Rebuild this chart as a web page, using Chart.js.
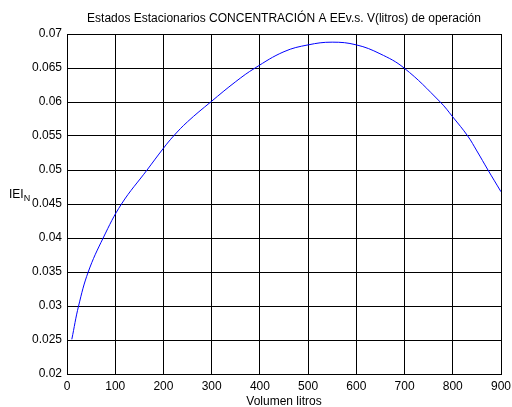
<!DOCTYPE html>
<html>
<head>
<meta charset="utf-8">
<script src="https://cdn.jsdelivr.net/npm/chart.js@4/dist/chart.umd.min.js"></script>
<style>
  html, body { margin: 0; padding: 0; background: #fff; }
  #wrap { width: 512px; height: 407px; position: relative; }
</style>
</head>
<body>
<div id="wrap"><canvas id="chart" width="512" height="407"></canvas></div>
<script>
// volume (litros) and concentration
const volumen = [10, 24, 44, 75, 113, 166, 200, 221, 250, 298, 350, 390, 450, 500, 550, 600, 649, 699, 774, 800, 831, 850, 873, 900];
const concentracion = [0.0251, 0.0300, 0.0350, 0.0400, 0.0450, 0.0500, 0.0532, 0.0550, 0.0571, 0.0600, 0.0630, 0.0650, 0.0674, 0.0684, 0.0688, 0.0684, 0.0671, 0.0650, 0.0600, 0.0578, 0.0550, 0.0528, 0.0500, 0.0468];
const xTicks = [0, 100, 200, 300, 400, 500, 600, 700, 800, 900];
const yTicks = [0.02, 0.025, 0.03, 0.035, 0.04, 0.045, 0.05, 0.055, 0.06, 0.065, 0.07];

const FONT = 'Liberation Sans, Arial, sans-serif';

// title and axis labels, drawn like the matlab figure
const labels = {
    id: 'labels',
    afterDraw(chart) {
        const c = chart.ctx;
        const a = chart.chartArea;
        const mid = (a.left + a.right) / 2;
        c.save();
        c.fillStyle = '#000';
        c.textBaseline = 'alphabetic';
        c.textAlign = 'center';
        c.font = '12px ' + FONT;
        c.fillText('Estados Estacionarios CONCENTRACIÓN A EEv.s. V(litros) de operación', mid, 22);
        c.fillText('Volumen litros', mid, 405);
        // y label IEI with subscript N
        c.textAlign = 'left';
        c.fillText('IEI', 9, 198);
        const w = c.measureText('IEI').width;
        c.font = '9px ' + FONT;
        c.fillText('N', 9 + w, 201);
        c.restore();
    }
};

const ctx = document.getElementById('chart').getContext('2d');
const chart = new Chart(ctx, {
    type: 'scatter',
    data: {
        datasets: [{
            data: volumen.map((v, i) => ({ x: v, y: concentracion[i] })),
            showLine: true,
            borderColor: '#0000ff',
            borderWidth: 1,
            pointRadius: 0,
            tension: 0.4,
            fill: false
        }]
    },
    options: {
        responsive: false,
        animation: false,
        layout: { padding: { top: 34, right: 0, left: 0, bottom: 0 } },
        plugins: {
            legend: { display: false },
            tooltip: { enabled: false }
        },
        scales: {
            x: {
                type: 'linear',
                min: 0,
                max: 900,
                afterFit: s => { s.height = 33; s.paddingRight = 11; s.paddingLeft = 0; },
                afterBuildTicks: s => { s.ticks = xTicks.map(v => ({ value: v })); },
                grid: { color: '#000', lineWidth: 1, drawTicks: false },
                border: { display: true, color: '#000', width: 1 },
                ticks: {
                    color: '#000',
                    padding: 5,
                    maxRotation: 0,
                    font: { family: FONT, size: 12 },
                    callback: v => String(v)
                }
            },
            y: {
                min: 0.02,
                max: 0.07,
                afterFit: s => { s.width = 67; },
                afterBuildTicks: s => { s.ticks = yTicks.map(v => ({ value: v })); },
                grid: { color: '#000', lineWidth: 1, drawTicks: false },
                border: { display: true, color: '#000', width: 1 },
                ticks: {
                    color: '#000',
                    padding: 5,
                    font: { family: FONT, size: 12 },
                    callback: v => String(Number(v.toFixed(3)))
                }
            }
        }
    },
    plugins: [labels]
});
</script>
</body>
</html>
